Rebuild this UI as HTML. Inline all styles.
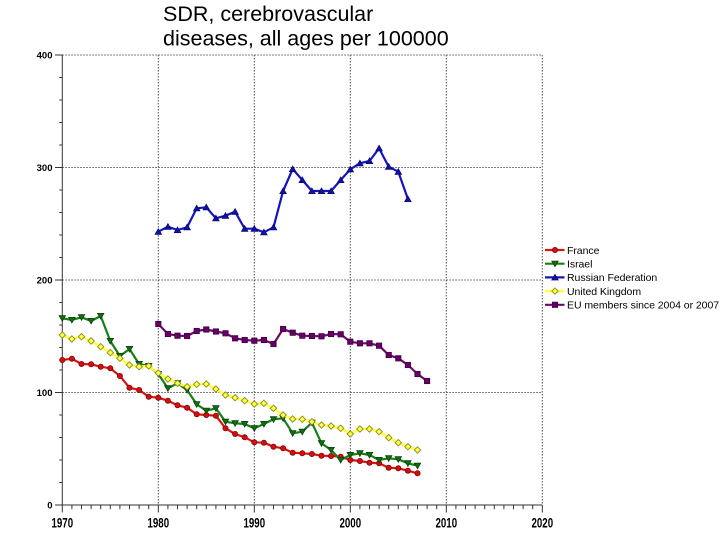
<!DOCTYPE html>
<html>
<head>
<meta charset="utf-8">
<style>
html,body{margin:0;padding:0;background:#fff;}
svg{display:block;}
text{font-family:"Liberation Sans",Arial,sans-serif;}
</style>
</head>
<body>
<svg width="720" height="540" viewBox="0 0 720 540" xmlns="http://www.w3.org/2000/svg">
<defs>
  <marker id="mC" markerUnits="userSpaceOnUse" markerWidth="8" markerHeight="8" refX="4" refY="4" overflow="visible">
    <circle cx="4" cy="4" r="2.6" fill="#d01010" stroke="#8a0000" stroke-width="0.8"/>
  </marker>
  <marker id="mTD" markerUnits="userSpaceOnUse" markerWidth="8" markerHeight="8" refX="4" refY="4" overflow="visible">
    <polygon points="0.8,1.4 7.2,1.4 4,7" fill="#107010" stroke="#0a400a" stroke-width="0.8"/>
  </marker>
  <marker id="mTU" markerUnits="userSpaceOnUse" markerWidth="8" markerHeight="8" refX="4" refY="4" overflow="visible">
    <polygon points="0.8,6.6 7.2,6.6 4,1" fill="#1212b0" stroke="#08086a" stroke-width="0.8"/>
  </marker>
  <marker id="mD" markerUnits="userSpaceOnUse" markerWidth="8" markerHeight="8" refX="4" refY="4" overflow="visible">
    <polygon points="4,0.8 7.2,4 4,7.2 0.8,4" fill="#ffff50" stroke="#8a8a20" stroke-width="0.9"/>
  </marker>
  <marker id="mS" markerUnits="userSpaceOnUse" markerWidth="8" markerHeight="8" refX="4" refY="4" overflow="visible">
    <rect x="1.3" y="1.3" width="5.4" height="5.4" fill="#660066" stroke="#3a003a" stroke-width="0.7"/>
  </marker>
</defs>

<!-- Title -->
<text x="163" y="21" font-size="21.5" fill="#000">SDR, cerebrovascular</text>
<text x="163" y="45.5" font-size="21.5" fill="#000">diseases, all ages per 100000</text>

<!-- Grid -->
<g stroke="#555" stroke-width="1" stroke-dasharray="1.5 1.5" fill="none">
  <line x1="62.3" y1="55" x2="542.3" y2="55"/>
  <line x1="62.3" y1="167.5" x2="542.3" y2="167.5"/>
  <line x1="62.3" y1="280" x2="542.3" y2="280"/>
  <line x1="62.3" y1="392.5" x2="542.3" y2="392.5"/>
  <line x1="158.3" y1="55" x2="158.3" y2="505"/>
  <line x1="254.3" y1="55" x2="254.3" y2="505"/>
  <line x1="350.3" y1="55" x2="350.3" y2="505"/>
  <line x1="446.3" y1="55" x2="446.3" y2="505"/>
  <line x1="542.3" y1="55" x2="542.3" y2="505"/>
</g>

<!-- Axes -->
<g stroke="#333" stroke-width="1" fill="none">
  <line x1="62.3" y1="55" x2="62.3" y2="505"/>
  <line x1="62.3" y1="505" x2="542.3" y2="505"/>
  <!-- y major ticks -->
  <path d="M55 55H62.3M55 167.5H62.3M55 280H62.3M55 392.5H62.3M55 505H62.3"/>
  <!-- y minor ticks -->
  <path d="M59.3 77.5H62.3M59.3 100H62.3M59.3 122.5H62.3M59.3 145H62.3
           M59.3 190H62.3M59.3 212.5H62.3M59.3 235H62.3M59.3 257.5H62.3
           M59.3 302.5H62.3M59.3 325H62.3M59.3 347.5H62.3M59.3 370H62.3
           M59.3 415H62.3M59.3 437.5H62.3M59.3 460H62.3M59.3 482.5H62.3"/>
  <!-- x major ticks -->
  <path d="M62.3 505V512.5M158.3 505V512.5M254.3 505V512.5M350.3 505V512.5M446.3 505V512.5M542.3 505V512.5"/>
  <!-- x minor ticks -->
  <path d="M71.9 505V509.3M81.5 505V509.3M91.1 505V509.3M100.7 505V509.3M110.3 505V509.3M119.9 505V509.3M129.5 505V509.3M139.1 505V509.3M148.7 505V509.3
           M167.9 505V509.3M177.5 505V509.3M187.1 505V509.3M196.7 505V509.3M206.3 505V509.3M215.9 505V509.3M225.5 505V509.3M235.1 505V509.3M244.7 505V509.3
           M263.9 505V509.3M273.5 505V509.3M283.1 505V509.3M292.7 505V509.3M302.3 505V509.3M311.9 505V509.3M321.5 505V509.3M331.1 505V509.3M340.7 505V509.3
           M359.9 505V509.3M369.5 505V509.3M379.1 505V509.3M388.7 505V509.3M398.3 505V509.3M407.9 505V509.3M417.5 505V509.3M427.1 505V509.3M436.7 505V509.3
           M455.9 505V509.3M465.5 505V509.3M475.1 505V509.3M484.7 505V509.3M494.3 505V509.3M503.9 505V509.3M513.5 505V509.3M523.1 505V509.3M532.7 505V509.3"/>
</g>

<!-- Y labels -->
<g font-size="9.5" font-weight="bold" fill="#000" text-anchor="end">
  <text x="52.5" y="58.4">400</text>
  <text x="52.5" y="170.9">300</text>
  <text x="52.5" y="283.4">200</text>
  <text x="52.5" y="395.9">100</text>
  <text x="52.5" y="508.4">0</text>
</g>

<!-- X labels -->
<g font-size="13.5" font-weight="bold" fill="#000" text-anchor="middle">
  <text transform="translate(62.3,527.5) scale(0.72,1)">1970</text>
  <text transform="translate(158.3,527.5) scale(0.72,1)">1980</text>
  <text transform="translate(254.3,527.5) scale(0.72,1)">1990</text>
  <text transform="translate(350.3,527.5) scale(0.72,1)">2000</text>
  <text transform="translate(446.3,527.5) scale(0.72,1)">2010</text>
  <text transform="translate(542.3,527.5) scale(0.72,1)">2020</text>
</g>

<!-- Series -->
<g fill="none" stroke-width="2.2" stroke-linejoin="round">
  <!-- France -->
  <polyline stroke="#d81515" marker-start="url(#mC)" marker-mid="url(#mC)" marker-end="url(#mC)"
    points="62.3,360 71.9,358.7 81.5,364 91.1,364.3 100.7,366.7 110.3,368.3 119.9,376 129.5,387.7 139.1,390 148.7,396.7 158.3,397.7 167.9,400.7 177.5,405.3 187.1,407.7 196.7,414.3 206.3,415 215.9,415.7 225.5,428.3 235.1,434 244.7,437.3 254.3,442.3 263.9,442.7 273.5,446.7 283.1,448.3 292.7,452.7 302.3,453.3 311.9,454 321.5,455.7 331.1,456 340.7,456.7 350.3,460 359.9,461 369.5,462.7 379.1,463.3 388.7,467.7 398.3,468.3 407.9,470.7 417.5,473.3"/>
  <!-- Israel -->
  <polyline stroke="#168016" marker-start="url(#mTD)" marker-mid="url(#mTD)" marker-end="url(#mTD)"
    points="62.3,318.3 71.9,320 81.5,317.3 91.1,321 100.7,316 110.3,341 119.9,356 129.5,349 139.1,364 148.7,366 158.3,374 167.9,388.3 177.5,383.3 187.1,390 196.7,404.3 206.3,410.7 215.9,408.3 225.5,421.7 235.1,423.3 244.7,424 254.3,428.3 263.9,424 273.5,419.3 283.1,418.3 292.7,433.3 302.3,431.7 311.9,422.7 321.5,443.3 331.1,450 340.7,460 350.3,455 359.9,453.3 369.5,455 379.1,460 388.7,458.3 398.3,459.3 407.9,463.3 417.5,465.7"/>
  <!-- Russian Federation -->
  <polyline stroke="#1515c0" marker-start="url(#mTU)" marker-mid="url(#mTU)" marker-end="url(#mTU)"
    points="158.3,231.7 167.9,226.7 177.5,230 187.1,227.3 196.7,208.3 206.3,207.3 215.9,218.3 225.5,215.7 235.1,211.7 244.7,228.7 254.3,228.7 263.9,232.3 273.5,227.3 283.1,191 292.7,169 302.3,180 311.9,191 321.5,191 331.1,191 340.7,180 350.3,169.3 359.9,163.3 369.5,161 379.1,148.3 388.7,166.7 398.3,171.7 407.9,199"/>
  <!-- United Kingdom -->
  <polyline stroke="#ffff48" stroke-width="2.6" marker-start="url(#mD)" marker-mid="url(#mD)" marker-end="url(#mD)"
    points="62.3,335 71.9,339 81.5,336.7 91.1,341 100.7,346.7 110.3,352.7 119.9,358.3 129.5,365 139.1,366.7 148.7,366 158.3,373 167.9,379 177.5,383.3 187.1,386.7 196.7,384.3 206.3,384 215.9,389 225.5,395 235.1,397.7 244.7,400.7 254.3,404 263.9,403.3 273.5,408.3 283.1,415 292.7,419 302.3,419.3 311.9,421.7 321.5,425 331.1,426 340.7,428.3 350.3,434 359.9,429 369.5,429 379.1,431.7 388.7,437.7 398.3,442.7 407.9,446.7 417.5,450"/>
  <!-- EU members -->
  <polyline stroke="#6a0a6a" marker-start="url(#mS)" marker-mid="url(#mS)" marker-end="url(#mS)"
    points="158.3,324 167.9,334 177.5,335.7 187.1,336 196.7,331 206.3,329.5 215.9,331.5 225.5,333.3 235.1,338.3 244.7,340 254.3,340.7 263.9,340 273.5,344 283.1,329 292.7,332.7 302.3,335.7 311.9,336 321.5,336.3 331.1,334 340.7,334.3 350.3,341.7 359.9,343.3 369.5,343.3 379.1,345.7 388.7,355 398.3,358.3 407.9,365 417.5,374 427.1,381"/>
</g>

<!-- Legend -->
<g stroke-width="2.2" fill="none">
  <polyline stroke="#d81515" points="545,250 555,250 564.5,250" marker-mid="url(#mC)"/>
  <polyline stroke="#168016" points="545,263.7 555,263.7 564.5,263.7" marker-mid="url(#mTD)"/>
  <polyline stroke="#1515c0" points="545,277.4 555,277.4 564.5,277.4" marker-mid="url(#mTU)"/>
  <polyline stroke="#ffff48" stroke-width="2.6" points="545,291.1 555,291.1 564.5,291.1" marker-mid="url(#mD)"/>
  <polyline stroke="#6a0a6a" points="545,304.8 555,304.8 564.5,304.8" marker-mid="url(#mS)"/>
</g>
<g font-size="10.5" fill="#000" letter-spacing="-0.05">
  <text x="567" y="253.8">France</text>
  <text x="567" y="267.5">Israel</text>
  <text x="567" y="281.2">Russian Federation</text>
  <text x="567" y="294.9">United Kingdom</text>
  <text x="567" y="308.6">EU members since 2004 or 2007</text>
</g>
</svg>
</body>
</html>
